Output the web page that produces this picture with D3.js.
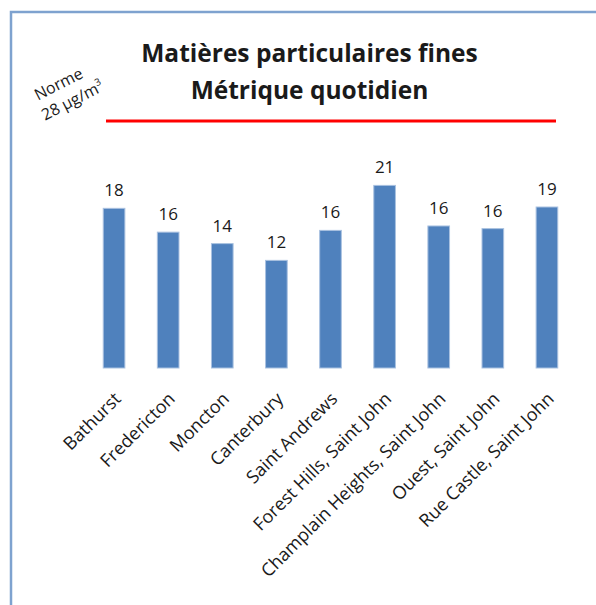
<!DOCTYPE html>
<html>
<head>
<meta charset="utf-8">
<script src="https://cdn.jsdelivr.net/npm/d3@7"></script>
<style>
  body { margin: 0; background: #fff; }
  text { font-family: "Open Sans", sans-serif; fill: #1a1a1a; }
</style>
</head>
<body>
<div id="chart"></div>
<script>
// Stations and daily fine particulate values (µg/m³)
const stations = ['Bathurst', 'Fredericton', 'Moncton', 'Canterbury', 'Saint Andrews',
  'Forest Hills, Saint John', 'Champlain Heights, Saint John', 'Ouest, Saint John',
  'Rue Castle, Saint John'];
const values = [18.1, 15.4, 14.1, 12.2, 15.6, 20.7, 16.1, 15.8, 18.25];
const valueLabels = ['18', '16', '14', '12', '16', '21', '16', '16', '19'];
const norme = 28;
const titleLines = ['Matières particulaires fines', 'Métrique quotidien'];

const W = 596, H = 605;

const svg = d3.select('#chart').append('svg')
  .attr('width', W)
  .attr('height', H);

// frame (top and left edges only)
svg.append('path')
  .attr('d', `M11,${H} L11,12 L${W},12`)
  .attr('fill', 'none')
  .attr('stroke', '#7ea2cf')
  .attr('stroke-width', 2.5);

const x = d3.scaleBand()
  .domain(stations)
  .range([87, 574])
  .paddingInner(0.6)
  .paddingOuter(0.3);

const y = d3.scaleLinear()
  .domain([0, norme])
  .range([368, 121]);

// title
svg.append('g').selectAll('text')
  .data(titleLines)
  .enter()
  .append('text')
  .attr('x', 309.5)
  .attr('y', (d, i) => 62 + i * 37)
  .attr('text-anchor', 'middle')
  .attr('font-size', '24.5px')
  .attr('font-weight', 'bold')
  .text(d => d);

// norme line
svg.append('line')
  .attr('x1', 106)
  .attr('x2', 556)
  .attr('y1', y(norme))
  .attr('y2', y(norme))
  .attr('stroke', '#ff0000')
  .attr('stroke-width', 3);

const normeLabel = svg.append('text')
  .attr('transform', 'translate(66,92) rotate(-27)')
  .attr('text-anchor', 'middle')
  .attr('font-size', '16px');
normeLabel.append('tspan').attr('x', -3).attr('y', -5).text('Norme');
normeLabel.append('tspan').attr('x', 2).attr('y', 16).text(`${norme} µg/m`);
normeLabel.append('tspan').attr('dy', -7).attr('font-size', '10px').text('3');

// bars
svg.append('g').selectAll('rect')
  .data(values)
  .enter()
  .append('rect')
  .attr('x', (d, i) => x(stations[i]))
  .attr('y', d => y(d))
  .attr('width', x.bandwidth())
  .attr('height', d => y(0) - y(d))
  .attr('fill', '#4f81bd')
  .attr('stroke', '#a9c1e0')
  .attr('stroke-width', 1);

// value labels
svg.append('g').selectAll('text')
  .data(values)
  .enter()
  .append('text')
  .attr('x', (d, i) => x(stations[i]) + x.bandwidth() / 2)
  .attr('y', d => y(d) - 12)
  .attr('text-anchor', 'middle')
  .attr('font-size', '17px')
  .text((d, i) => valueLabels[i]);

// category labels
svg.append('g').selectAll('text')
  .data(stations)
  .enter()
  .append('text')
  .attr('transform', d => `translate(${x(d) + x.bandwidth() / 2 + 8},400) rotate(-45)`)
  .attr('text-anchor', 'end')
  .attr('font-size', '18px')
  .text(d => d);
</script>
</body>
</html>
